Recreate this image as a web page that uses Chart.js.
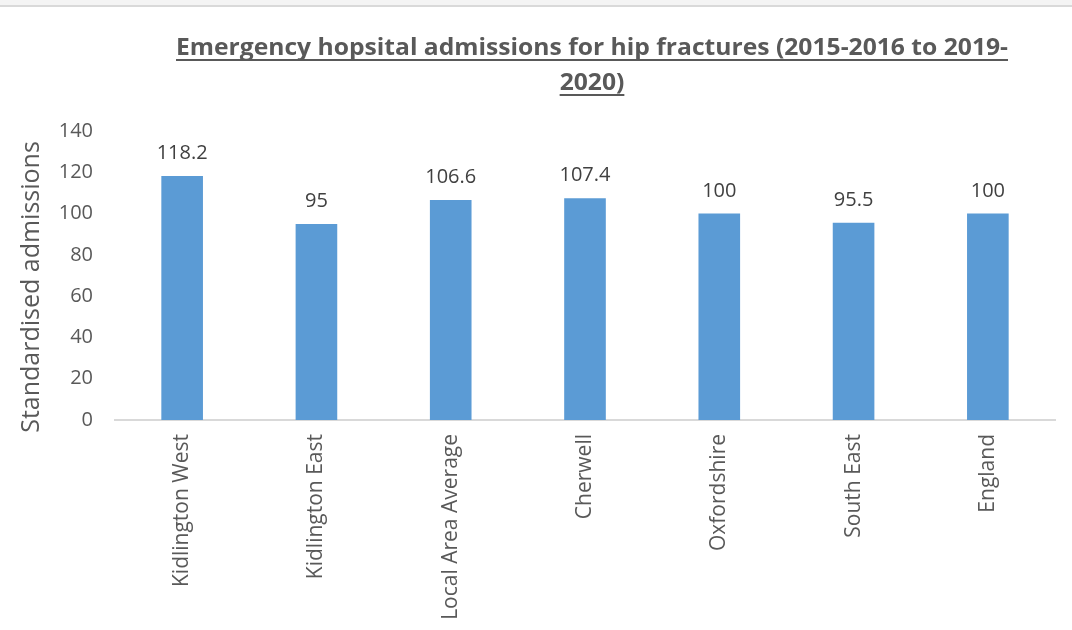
<!DOCTYPE html>
<html>
<head>
<meta charset="utf-8">
<script src="https://cdn.jsdelivr.net/npm/chart.js@4/dist/chart.umd.min.js"></script>
<style>
  html, body { margin: 0; padding: 0; background: #ffffff; }
  #wrap { width: 1072px; height: 630px; position: relative; }
</style>
</head>
<body>
<div id="wrap"><canvas id="chart" width="1072" height="630"></canvas></div>
<script>
// Emergency hip-fracture admissions, standardised ratio (England = 100)
const categories = ['Kidlington West', 'Kidlington East', 'Local Area Average', 'Cherwell', 'Oxfordshire', 'South East', 'England'];
const admissions = [118.2, 95, 106.6, 107.4, 100, 95.5, 100];
const valueLabels = ['118.2', '95', '106.6', '107.4', '100', '95.5', '100'];
const titleLines = ['Emergency hopsital admissions for hip fractures (2015-2016 to 2019-', '2020)'];
const yTitle = 'Standardised admissions';

const TEXT = '#595959';
const FONT = '"Open Sans", "Noto Sans", sans-serif';

// Thin grey band across the top of the page
const topBand = {
  id: 'topBand',
  beforeDraw(chart) {
    const ctx = chart.ctx;
    ctx.save();
    ctx.fillStyle = '#f4f4f4';
    ctx.fillRect(0, 0, chart.width, 5);
    ctx.fillStyle = '#d9d9d9';
    ctx.fillRect(0, 5, chart.width, 2);
    ctx.restore();
  }
};

// Bold underlined two-line title (narrowed face) and the vertical axis title
const titles = {
  id: 'titles',
  afterDraw(chart) {
    const ctx = chart.ctx;
    const cx = 592;
    const lineWidth = 832;
    const baselines = [55, 90];
    ctx.save();
    ctx.font = 'bold 24px ' + FONT;
    const squeeze = lineWidth / ctx.measureText(titleLines[0]).width;
    ctx.fillStyle = TEXT;
    ctx.strokeStyle = TEXT;
    ctx.textAlign = 'center';
    ctx.textBaseline = 'alphabetic';
    titleLines.forEach((line, i) => {
      const w = ctx.measureText(line).width * squeeze;
      ctx.save();
      ctx.translate(cx, baselines[i]);
      ctx.scale(squeeze, 1);
      ctx.fillText(line, 0, 0);
      ctx.restore();
      ctx.lineWidth = 2;
      ctx.beginPath();
      ctx.moveTo(cx - w / 2, baselines[i] + 5);
      ctx.lineTo(cx + w / 2, baselines[i] + 5);
      ctx.stroke();
    });

    // y-axis title
    ctx.font = '25px ' + FONT;
    ctx.textBaseline = 'middle';
    ctx.translate(32, 287);
    ctx.rotate(-Math.PI / 2);
    ctx.fillText(yTitle, 0, 0);
    ctx.restore();
  }
};

// Value labels above each bar
const barValues = {
  id: 'barValues',
  afterDatasetsDraw(chart) {
    const ctx = chart.ctx;
    const meta = chart.getDatasetMeta(0);
    ctx.save();
    ctx.font = '20px ' + FONT;
    ctx.fillStyle = '#404040';
    ctx.textAlign = 'center';
    ctx.textBaseline = 'alphabetic';
    meta.data.forEach((bar, i) => {
      ctx.fillText(valueLabels[i], bar.x, bar.y - 17);
    });
    ctx.restore();
  }
};

new Chart(document.getElementById('chart'), {
  type: 'bar',
  data: {
    labels: categories,
    datasets: [{
      data: admissions,
      backgroundColor: '#5b9bd5',
      borderWidth: 0,
      barPercentage: 0.31,
      categoryPercentage: 1.0
    }]
  },
  options: {
    responsive: false,
    animation: false,
    layout: { padding: { top: 131, right: 17, left: 18, bottom: 0 } },
    plugins: {
      legend: { display: false },
      tooltip: { enabled: false },
      title: { display: false }
    },
    scales: {
      x: {
        grid: { display: false, drawTicks: false },
        border: { display: true, color: '#d9d9d9', width: 2 },
        ticks: {
          color: TEXT,
          font: { family: FONT, size: 21 },
          minRotation: 90,
          maxRotation: 90,
          padding: 14,
          autoSkip: false
        },
        afterFit(scale) { scale.height = 210; }
      },
      y: {
        min: 0,
        max: 140,
        grid: { display: false, drawTicks: false },
        border: { display: false },
        ticks: {
          stepSize: 20,
          color: TEXT,
          font: { family: FONT, size: 20 },
          padding: 22
        },
        title: { display: false },
        afterFit(scale) { scale.width = 97; }
      }
    }
  },
  plugins: [topBand, titles, barValues]
});
</script>
</body>
</html>
